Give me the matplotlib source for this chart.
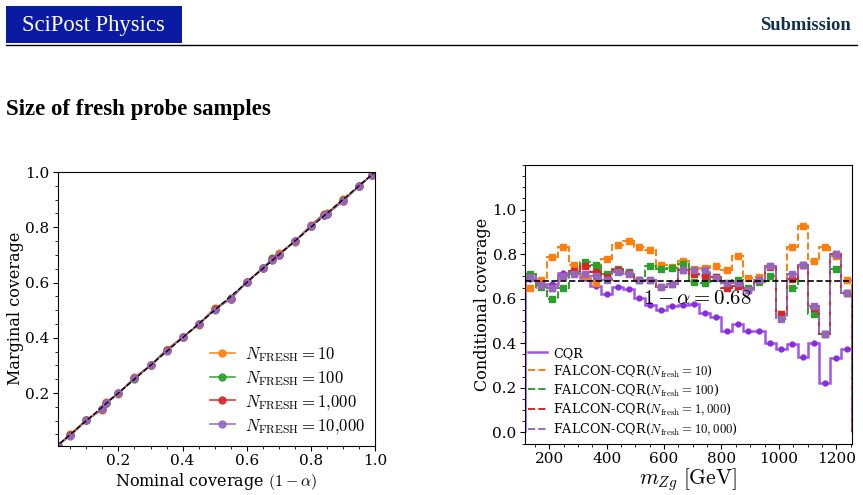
import numpy as np
import matplotlib
matplotlib.use('Agg')
import matplotlib.pyplot as plt
from matplotlib.lines import Line2D
from matplotlib.patches import Rectangle

plt.rcParams['font.family'] = 'DejaVu Serif'
plt.rcParams['mathtext.fontset'] = 'cm'

# left panel: marginal coverage
nominal = [0.01, 0.05, 0.10, 0.15, 0.16, 0.20, 0.25, 0.30, 0.35, 0.40, 0.45, 0.50,
           0.55, 0.60, 0.65, 0.68, 0.70, 0.75, 0.80, 0.84, 0.85, 0.90, 0.95, 0.99]
marg_10 = [0.01, 0.052, 0.103, 0.140, 0.166, 0.198, 0.257, 0.300, 0.357, 0.402, 0.447, 0.508,
           0.540, 0.602, 0.652, 0.683, 0.705, 0.748, 0.808, 0.848, 0.850, 0.902, 0.948, 0.99]
marg_100 = [0.01, 0.048, 0.102, 0.143, 0.163, 0.199, 0.252, 0.301, 0.356, 0.401, 0.449, 0.503,
            0.545, 0.601, 0.651, 0.687, 0.701, 0.749, 0.803, 0.845, 0.848, 0.897, 0.949, 0.99]
marg_1000 = [0.01, 0.047, 0.101, 0.142, 0.164, 0.199, 0.253, 0.300, 0.354, 0.401, 0.448, 0.503,
             0.542, 0.601, 0.652, 0.684, 0.701, 0.749, 0.805, 0.846, 0.848, 0.895, 0.949, 0.99]
marg_10000 = [0.01, 0.046, 0.101, 0.143, 0.165, 0.199, 0.253, 0.301, 0.352, 0.401, 0.449, 0.502,
              0.540, 0.601, 0.652, 0.682, 0.700, 0.749, 0.804, 0.845, 0.847, 0.894, 0.949, 0.99]
marg_labels = [r'$N_{\rm FRESH}=10$', r'$N_{\rm FRESH}=100$',
               r'$N_{\rm FRESH}=1{,}000$', r'$N_{\rm FRESH}=10{,}000$']

# right panel: conditional coverage per m_Zg bin
m_lo, m_hi, n_bins = 115, 1255, 30
cqr = [0.690, 0.665, 0.665, 0.715, 0.715, 0.695, 0.658, 0.620, 0.652, 0.642,
       0.603, 0.572, 0.550, 0.568, 0.570, 0.574, 0.537, 0.517, 0.453, 0.487,
       0.456, 0.456, 0.403, 0.376, 0.396, 0.340, 0.399, 0.222, 0.332, 0.373]
falcon_10 = [0.647, 0.685, 0.787, 0.832, 0.750, 0.700, 0.672, 0.780, 0.840, 0.857,
             0.830, 0.820, 0.752, 0.740, 0.770, 0.734, 0.739, 0.746, 0.727, 0.790,
             0.692, 0.697, 0.745, 0.530, 0.832, 0.926, 0.769, 0.832, 0.790, 0.686]
falcon_100 = [0.712, 0.652, 0.600, 0.649, 0.720, 0.765, 0.749, 0.712, 0.734, 0.720,
              0.685, 0.746, 0.735, 0.737, 0.757, 0.675, 0.671, 0.697, 0.672, 0.686,
              0.648, 0.674, 0.700, 0.520, 0.648, 0.753, 0.532, 0.440, 0.731, 0.625]
falcon_1000 = [0.697, 0.660, 0.649, 0.700, 0.724, 0.746, 0.720, 0.697, 0.727, 0.715,
               0.685, 0.682, 0.652, 0.667, 0.727, 0.712, 0.704, 0.697, 0.649, 0.655,
               0.637, 0.682, 0.742, 0.532, 0.688, 0.753, 0.560, 0.440, 0.800, 0.625]
falcon_10000 = [0.697, 0.660, 0.649, 0.700, 0.712, 0.712, 0.704, 0.682, 0.720, 0.712,
                0.685, 0.682, 0.652, 0.667, 0.727, 0.730, 0.727, 0.694, 0.672, 0.670,
                0.637, 0.685, 0.745, 0.507, 0.709, 0.753, 0.567, 0.442, 0.800, 0.625]
cond_labels = ['CQR', r'FALCON-CQR($N_{\rm fresh}=10$)', r'FALCON-CQR($N_{\rm fresh}=100$)',
               r'FALCON-CQR($N_{\rm fresh}=1,000$)', r'FALCON-CQR($N_{\rm fresh}=10,000$)']
target = 0.68

W, H = 863, 495
fig = plt.figure(figsize=(W / 100, H / 100), dpi=100)

# page header
fig.patches.append(Rectangle((6 / W, 1 - 43 / H), 176 / W, 37 / H, transform=fig.transFigure,
                             facecolor='#0a1aa3', edgecolor='none'))
fig.text(93 / W, 1 - 25 / H, 'SciPost Physics', color='white', fontsize=16.3,
         family='Liberation Serif', ha='center', va='center')
fig.text(851 / W, 1 - 25 / H, 'Submission', color='#12304c', fontsize=13.3,
         family='Liberation Serif', weight='bold', ha='right', va='center')
fig.add_artist(Line2D([6 / W, 857 / W], [1 - 44.5 / H, 1 - 44.5 / H], color='black', lw=1.0,
                      transform=fig.transFigure))
fig.text(6 / W, 1 - 109 / H, 'Size of fresh probe samples', color='black', fontsize=16.5,
         family='Liberation Serif', weight='bold', ha='left', va='center')

# left panel
ax1 = fig.add_axes([57.5 / W, 1 - 445.5 / H, 317.5 / W, 273.5 / H])
colors = ['tab:orange', 'tab:green', 'tab:red', 'tab:purple']
for vals, c, lab in zip([marg_10, marg_100, marg_1000, marg_10000], colors, marg_labels):
    ax1.plot(nominal, vals, color=c, marker='o', ms=5, lw=1.2, alpha=0.9, label=lab)
ax1.plot([0, 1], [0, 1], color='black', ls='--', lw=1.0, zorder=5)
ax1.set_xlim(0.01, 1.0)
ax1.set_ylim(0.01, 1.0)
ax1.set_xticks([0.2, 0.4, 0.6, 0.8, 1.0])
ax1.set_yticks([0.2, 0.4, 0.6, 0.8, 1.0])
ax1.minorticks_on()
ax1.tick_params(labelsize=11, pad=2.5)
ax1.set_xlabel(r'Nominal coverage $(1-\alpha)$', fontsize=11.5, labelpad=2)
ax1.set_ylabel('Marginal coverage', fontsize=11.5, labelpad=1)
ax1.legend(loc='lower right', frameon=False, fontsize=12, handlelength=1.5,
           borderaxespad=0.2, labelspacing=0.3, handletextpad=0.6)

# right panel
ax2 = fig.add_axes([525 / W, 1 - 443.5 / H, 327 / W, 278.5 / H])
edges = np.linspace(m_lo, m_hi, n_bins + 1)
centers = 0.5 * (edges[:-1] + edges[1:])
ax2.stairs(cqr, edges, baseline=0, color='blueviolet', alpha=0.8, lw=1.8)
ax2.plot(centers, cqr, 'o', ms=3.5, color='blueviolet', ls='none')
falcon = [falcon_10, falcon_100, falcon_1000, falcon_10000]
for vals, c in zip(falcon, colors):
    ax2.stairs(vals, edges, baseline=0, color=c, ls='--', lw=1.4)
    ax2.plot(centers, vals, 's', ms=4, color=c, ls='none')
ax2.axhline(target, color='black', ls='--', lw=1.2, zorder=6)
ax2.text(716, 0.60, r'$1-\alpha=%.2f$' % target, fontsize=15, ha='center', va='center')
ax2.set_xlim(m_lo, m_hi)
ax2.set_ylim(-0.05, 1.2)
ax2.set_xticks([200, 400, 600, 800, 1000, 1200])
ax2.set_yticks([0.0, 0.2, 0.4, 0.6, 0.8, 1.0])
ax2.minorticks_on()
ax2.tick_params(labelsize=11, pad=2.5)
ax2.set_xlabel(r'$m_{Zg}\ [\mathrm{GeV}]$', fontsize=15.5, labelpad=0)
ax2.set_ylabel('Conditional coverage', fontsize=11.5, labelpad=1)
handles = [Line2D([], [], color='blueviolet', alpha=0.8, lw=1.8)]
handles += [Line2D([], [], color=c, ls='--', lw=1.4) for c in colors]
ax2.legend(handles, cond_labels, loc='upper left', bbox_to_anchor=(-0.015, 0.375),
           frameon=False, fontsize=9.2, handlelength=1.5, labelspacing=0.3,
           handletextpad=0.5, borderaxespad=0.2)

fig.savefig('out.png', dpi=100)
